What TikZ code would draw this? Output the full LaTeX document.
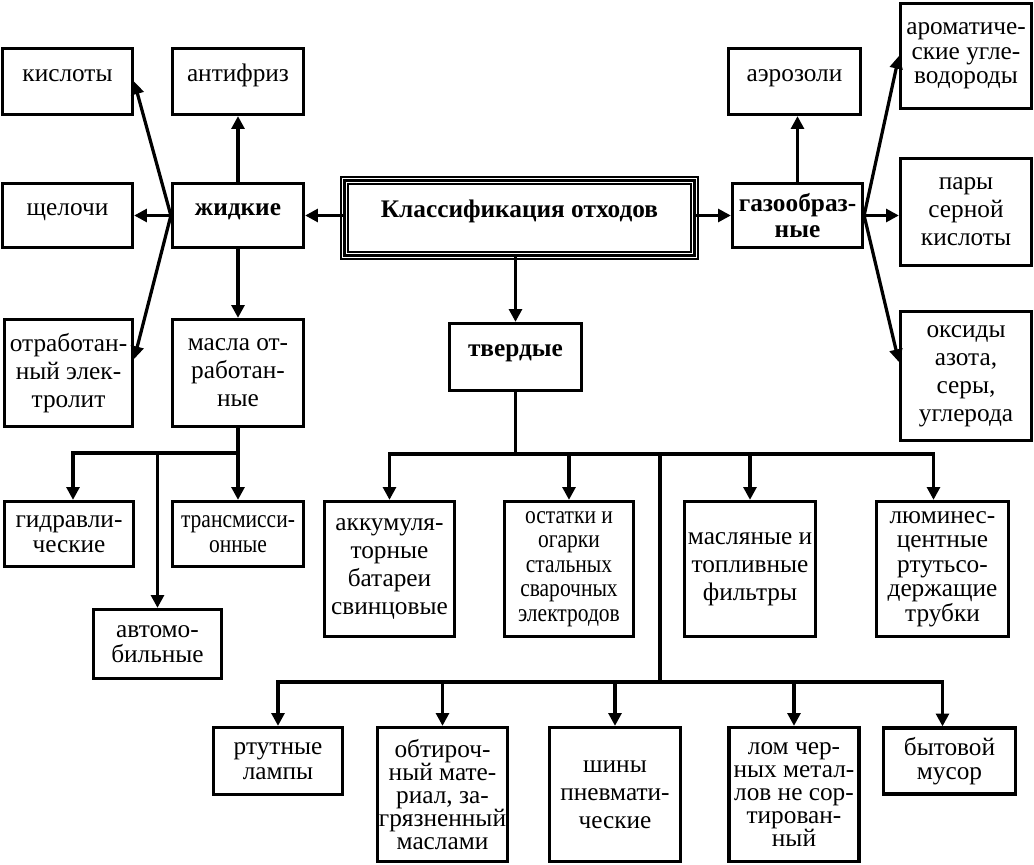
\documentclass[tikz,border=0pt]{standalone}
\usepackage{fontspec}
\setmainfont{Liberation Serif}
\newfontfamily\narrowfont{Liberation Serif}[FakeStretch=0.85]
\usetikzlibrary{positioning,arrows.meta,calc}

\begin{document}
\begin{tikzpicture}[
    x=0.025cm, y=-0.025cm,
    font=\fontsize{18}{20}\selectfont,
    box/.style={draw, line width=2.3pt, align=center, inner sep=1pt},
    sz/.style 2 args={minimum width=#1*0.025cm, minimum height=#2*0.025cm},
    one/.style={text height=0.28cm, text depth=0.3cm},
    bold/.style={font=\fontsize{18}{19}\selectfont\bfseries},
    tight/.style={font=\fontsize{18}{17.5}\selectfont},
    tighter/.style={font=\fontsize{18}{16.5}\selectfont},
    narrow/.style={font=\narrowfont\fontsize{18}{17.5}\selectfont},
    arr/.style={line width=2.3pt, -{Triangle[length=9pt,width=9pt]}},
    ln/.style={line width=2.3pt},
  ]
  \useasboundingbox (0,0) rectangle (1034,865);

  % centre
  \node[box, bold, one, sz={350}{75}, line width=1.8pt, outer sep=0pt] (klass) at (519.5,218) {Классификация отходов};
  \draw[line width=0.9pt] ($(klass.north west)+(-3.5,-3.5)$) rectangle ($(klass.south east)+(3.5,3.5)$);
  \draw[line width=0.9pt] ($(klass.north west)+(3.5,3.5)$) rectangle ($(klass.south east)+(-3.5,-3.5)$);
  \node[box, bold, one, sz={132}{67}] (tverd) at (515.5,357) {твердые};

  % liquid
  \node[box, one, sz={130}{66}] (kisl) at (67.5,81.5) {кислоты};
  \node[box, one, sz={131}{66}] (antif) at (238,81.5) {антифриз};
  \node[box, one, sz={130}{64}] (shch) at (67.5,215.5) {щелочи};
  \node[box, bold, one, sz={131}{64}] (zhid) at (238,215.5) {жидкие};
  \node[box, sz={128}{107}] (otrab) at (68.5,373) {отработан-\\ный элек-\\тролит};
  \node[box, sz={131}{107}] (masla) at (238,373) {масла от-\\работан-\\ные};
  \node[box, tight, sz={129}{65}] (gidr) at (69,534) {гидравли-\\ческие};
  \node[box, narrow, sz={131}{65}] (trans) at (238,534) {трансмисси-\\онные};
  \node[box, tight, sz={128}{69}] (avto) at (157.5,644) {автомо-\\бильные};

  % gaseous
  \node[box, bold, sz={130}{64}] (gaz) at (797.5,215.5) {газообраз-\\ные};
  \node[box, one, sz={132}{66}] (aero) at (794.5,81.5) {аэрозоли};
  \node[box, tight, sz={131}{105}] (arom) at (966,56) {ароматиче-\\ские угле-\\водороды};
  \node[box, sz={131}{107}] (pary) at (966,212) {пары\\серной\\кислоты};
  \node[box, sz={131}{129}] (oks) at (966,376) {оксиды\\азота,\\серы,\\углерода};

  % solid, first row
  \node[box, sz={130}{135}] (akk) at (389.5,569) {аккумуля-\\торные\\батареи\\свинцовые};
  \node[box, narrow, sz={129}{135}] (ost) at (569,569) {остатки и\\огарки\\стальных\\сварочных\\электродов};
  \node[box, sz={131}{135}] (masf) at (750,569) {масляные и\\топливные\\фильтры};
  \node[box, tight, sz={132}{135}] (lum) at (942.5,569) {люминес-\\центные\\ртутьсо-\\держащие\\трубки};

  % solid, second row
  \node[box, tight, sz={129}{67}] (rtut) at (278,761) {ртутные\\лампы};
  \node[box, tighter, sz={130}{134}] (obtir) at (442.5,794.5) {обтироч-\\ный мате-\\риал, за-\\грязненный\\маслами};
  \node[box, sz={131}{134}] (shiny) at (615,794.5) {шины\\пневмати-\\ческие};
  \node[box, tighter, sz={130}{134}] (lom) at (794,794.5) {лом чер-\\ных метал-\\лов не сор-\\тирован-\\ный};
  \node[box, tight, sz={132}{66}] (byt) at (949.5,761) {бытовой\\мусор};

  % arrows from the centre
  \draw[arr] (klass.west |- zhid.east) -- (zhid.east);
  \draw[arr] (klass.east |- gaz.west) -- (gaz.west);
  \draw[arr] (tverd.north |- klass.south) -- (tverd.north);

  \draw[arr] (zhid.north) -- (antif.south);
  \draw[arr] (zhid.west) -- (shch.east);
  \draw[arr] (zhid.west) -- (kisl.east);
  \draw[arr] (zhid.west) -- ($(otrab.east)+(0,-14)$);
  \draw[arr] (zhid.south) -- (masla.north);

  \draw[arr] (masla.south) -- ++(0,25) -| ($(gidr.north)+(4,0)$);
  \draw[arr] (masla.south) -- ++(0,25) -| (avto.north);
  \draw[arr] (masla.south) -- (trans.north);

  \draw[arr] (gaz.north) -- (gaz.north |- aero.south);
  \draw[arr] (gaz.east) -- (pary.west |- gaz.east);
  \draw[arr] (gaz.east) -- (arom.west);
  \draw[arr] (gaz.east) -- ($(oks.west)+(0,-14)$);

  % solid waste buses
  \coordinate (tb) at ($(tverd.south)+(0,62)$);
  \coordinate (jb) at (660,682);
  \draw[ln] (tverd.south) -- (tb);
  \foreach \n in {akk,ost,masf}
    \draw[arr] (tb) -| (\n.north);
  \draw[arr] (tb) -| ($(lum.north)+(-9,0)$);
  \draw[ln] (tb) -| (jb);
  \foreach \n in {rtut,obtir,shiny,lom}
    \draw[arr] (jb) -| (\n.north);
  \draw[arr] (jb) -| ($(byt.north)+(-7,0)$);
\end{tikzpicture}
\end{document}
